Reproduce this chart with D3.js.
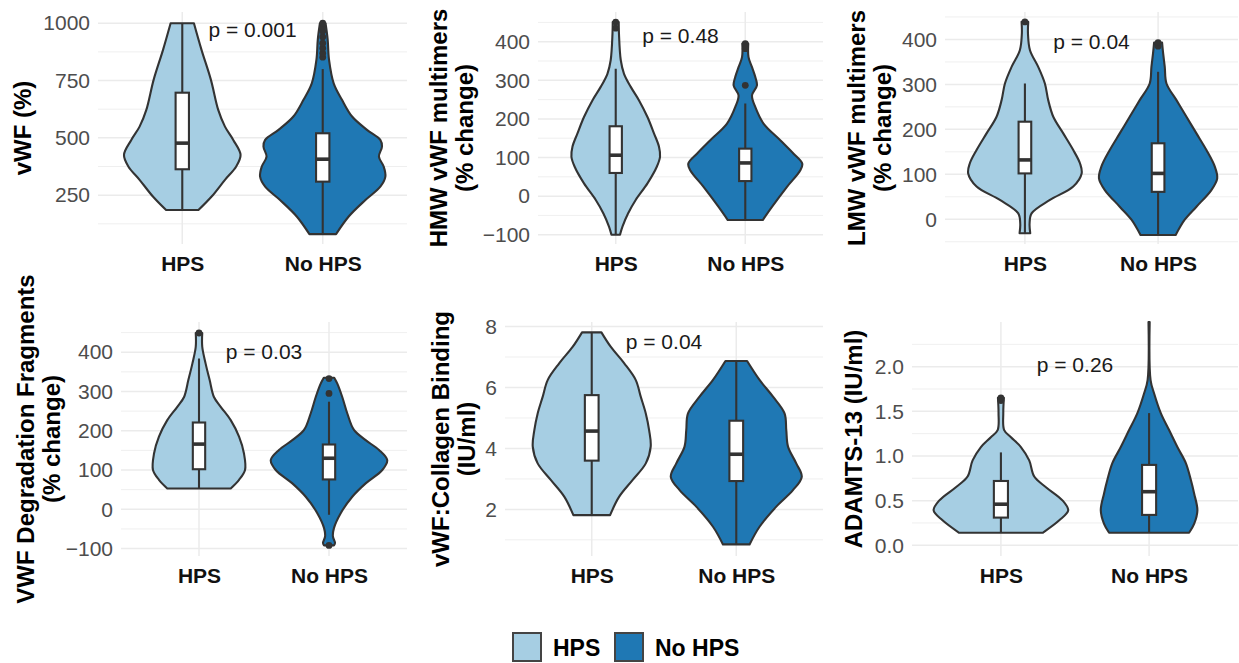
<!DOCTYPE html>
<html>
<head>
<meta charset="utf-8">
<script src="https://cdn.jsdelivr.net/npm/d3@7"></script>
<style>
  body { margin: 0; background: #fff; }
  text { font-family: "Liberation Sans", Arial, Helvetica, sans-serif; }
</style>
</head>
<body>
<div id="chart"></div>
<script>
// ---- data ----

const groups = ["HPS", "No HPS"];
const groupColors = ["#a6cee3", "#1f78b4"];

const panelTitles = [
    ["vWF (%)"],
    ["HMW vWF multimers", "(% change)"],
    ["LMW vWF multimers", "(% change)"],
    ["VWF Degradation Fragments", "(% change)"],
    ["vWF:Collagen Binding", "(IU/ml)"],
    ["ADAMTS-13 (IU/ml)"]
];
const yDomains = [[37, 1049], [-124, 477], [-55, 461], [-119, 477], [0.47, 8.15], [-0.12, 2.5]];
const yTicks = [
    [250, 500, 750, 1000],
    [-100, 0, 100, 200, 300, 400],
    [0, 100, 200, 300, 400],
    [-100, 0, 100, 200, 300, 400],
    [2, 4, 6, 8],
    [0, 0.5, 1, 1.5, 2]
];
const tickFormats = ["d", "d", "d", "d", "d", ".1f"];
const pLabels = ["p = 0.001", "p = 0.48", "p = 0.04", "p = 0.03", "p = 0.04", "p = 0.26"];
const pLabelY = [971, 417, 395, 402, 7.5, 2.02];

// violin outlines: [value, half width as a share of the category step]
const vwfHPS = [[1000, .083], [884, .137], [753, .204], [622, .256], [549, .304], [491, .363], [426, .415], [375, .384], [317, .304], [244, .209], [185, .115]];
const vwfNo = [[1000, .02], [930, .035], [840, .045], [738, .078], [666, .137], [593, .209], [535, .315], [491, .41], [462, .422], [418, .40], [375, .434], [331, .446], [287, .41], [229, .304], [157, .185], [80, .095]];
const hmwHPS = [[451, .023], [421, .025], [352, .039], [317, .064], [283, .116], [248, .18], [205, .245], [162, .296], [128, .334], [102, .342], [76, .317], [33, .245], [-10, .154], [-45, .095], [-79, .052], [-100, .033]];
const hmwNo = [[395, .023], [360, .025], [334, .052], [309, .077], [287, .09], [261, .052], [231, .077], [188, .141], [145, .27], [110, .373], [84, .44], [67, .425], [24, .322], [-28, .206], [-62, .135]];
const lmwHPS = [[439, .025], [413, .023], [376, .038], [339, .1], [302, .15], [265, .175], [228, .213], [191, .288], [154, .363], [124, .414], [102, .426], [73, .363], [43, .188], [13, .05], [-10, .035], [-31, .04]];
const lmwNo = [[393, .03], [369, .038], [339, .05], [302, .063], [265, .138], [228, .213], [191, .288], [154, .363], [117, .426], [91, .444], [65, .40], [28, .288], [-1, .2], [-35, .132]];
const fragHPS = [[449, .025], [414, .025], [371, .051], [329, .082], [286, .115], [261, .167], [227, .244], [185, .308], [142, .346], [100, .354], [75, .308], [53, .244]];
const fragNo = [[335, .04], [320, .064], [286, .102], [244, .141], [202, .192], [176, .282], [151, .385], [125, .448], [100, .41], [66, .282], [32, .179], [-10, .09], [-48, .038], [-69, .03], [-86, .046], [-92, .038]];
const collHPS = [[7.81, .067], [7.34, .131], [6.80, .224], [6.25, .304], [5.70, .339], [5.15, .374], [4.60, .397], [4.06, .408], [3.51, .374], [2.96, .282], [2.41, .189], [1.81, .127]];
const collNo = [[6.87, .075], [6.25, .161], [5.70, .254], [5.15, .334], [4.60, .346], [4.06, .358], [3.51, .415], [3.07, .453], [2.63, .392], [2.09, .277], [1.43, .161], [0.85, .092]];
const adamHPS = [[1.65, .02], [1.48, .016], [1.29, .022], [1.21, .068], [1.10, .135], [0.95, .191], [0.77, .225], [0.65, .304], [0.50, .417], [0.39, .454], [0.28, .394], [0.14, .282]];
const adamNo = [[2.50, .004], [1.85, .01], [1.70, .034], [1.48, .079], [1.29, .135], [1.10, .191], [0.92, .248], [0.73, .282], [0.58, .304], [0.39, .326], [0.24, .304], [0.14, .27]];
const violins = [[vwfHPS, vwfNo], [hmwHPS, hmwNo], [lmwHPS, lmwNo], [fragHPS, fragNo], [collHPS, collNo], [adamHPS, adamNo]];

// box stats [lower whisker, q1, median, q3, upper whisker]
const boxStats = [
    [[185, 363, 477, 697, 1000], [80, 309, 407, 520, 800]],
    [[-100, 60, 106, 181, 330], [-62, 39, 86, 123, 240]],
    [[-31, 102, 132, 217, 302], [-35, 61, 102, 169, 328]],
    [[53, 102, 166, 221, 384], [-14, 76, 130, 165, 274]],
    [[1.81, 3.60, 4.57, 5.75, 7.81], [0.85, 2.93, 3.81, 4.91, 6.87]],
    [[0.14, 0.31, 0.46, 0.72, 1.04], [0.14, 0.34, 0.60, 0.90, 1.48]]
];
const outliers = [
    [[], [852, 869, 891, 913, 940, 965, 985, 1000]],
    [[435, 451], [287, 382, 395]],
    [[439], [385, 393]],
    [[449], [295, 333, -92]],
    [[], []],
    [[1.62, 1.65], []]
];

// ---- layout ----

const width = 1239, height = 663;
const panelBoxes = [
    {x0: 98, x1: 407, y0: 12, y1: 244},
    {x0: 538, x1: 823, y0: 12, y1: 244},
    {x0: 945, x1: 1238, y0: 12, y1: 244},
    {x0: 121, x1: 407, y0: 322, y1: 556},
    {x0: 505, x1: 823, y0: 322, y1: 556},
    {x0: 912, x1: 1238, y0: 322, y1: 556}
];
const titleX = [[31], [447, 473], [865, 891], [34, 60], [449, 475], [862]];

const gridColor = "#ebebeb";
const inkColor = "#333333";
const boxShare = 0.095;
const lineW = 2.1;

const svg = d3.select("#chart").append("svg")
    .attr("width", width)
    .attr("height", height);

panelBoxes.forEach((b, p) => {
    const g = svg.append("g").attr("class", "panel");

    const x = d3.scalePoint()
        .domain(groups)
        .range([b.x0, b.x1])
        .padding(0.6);
    const step = x.step();

    const y = d3.scaleLinear()
        .domain(yDomains[p])
        .range([b.y1, b.y0]);

    // minor gridlines halfway between the breaks
    const ticks = yTicks[p];
    const half = (ticks[1] - ticks[0]) / 2;
    const minor = [ticks[0] - half].concat(ticks.map(t => t + half))
        .filter(v => v >= yDomains[p][0] && v <= yDomains[p][1]);

    g.selectAll(".minor")
        .data(minor)
        .join("line")
        .attr("x1", b.x0).attr("x2", b.x1)
        .attr("y1", d => y(d)).attr("y2", d => y(d))
        .attr("stroke", gridColor).attr("stroke-width", 0.8);

    g.selectAll(".major")
        .data(ticks)
        .join("line")
        .attr("x1", b.x0).attr("x2", b.x1)
        .attr("y1", d => y(d)).attr("y2", d => y(d))
        .attr("stroke", gridColor).attr("stroke-width", 1.5);

    g.selectAll(".vgrid")
        .data(groups)
        .join("line")
        .attr("x1", d => x(d)).attr("x2", d => x(d))
        .attr("y1", b.y0).attr("y2", b.y1)
        .attr("stroke", gridColor).attr("stroke-width", 1.5);

    // y axis
    const yAxis = g.append("g")
        .attr("transform", `translate(${b.x0},0)`)
        .call(d3.axisLeft(y).tickValues(ticks).tickFormat(d3.format(tickFormats[p])).tickSize(0).tickPadding(8));
    yAxis.select(".domain").remove();
    yAxis.selectAll("text")
        .attr("fill", "#4d4d4d")
        .style("font-size", "21px")
        .style("font-family", "'Liberation Sans', Arial, sans-serif");

    // x axis
    const xAxis = g.append("g")
        .attr("transform", `translate(0,${b.y1})`)
        .call(d3.axisBottom(x).tickSize(0).tickPadding(12));
    xAxis.select(".domain").remove();
    xAxis.selectAll("text")
        .attr("fill", "#111")
        .style("font-size", "21px")
        .style("font-weight", "bold")
        .style("font-family", "'Liberation Sans', Arial, sans-serif");

    // violins
    groups.forEach((grp, i) => {
        const cx = x(grp);
        const area = d3.area()
            .curve(d3.curveCatmullRom.alpha(0.5))
            .y(d => y(d[0]))
            .x0(d => cx - d[1] * step)
            .x1(d => cx + d[1] * step);

        g.append("path")
            .datum(violins[p][i])
            .attr("d", area)
            .attr("fill", groupColors[i])
            .attr("stroke", inkColor)
            .attr("stroke-width", lineW)
            .attr("stroke-linejoin", "round");

        const [lo, q1, med, q3, hi] = boxStats[p][i];
        const bw = step * boxShare;

        g.append("line")
            .attr("x1", cx).attr("x2", cx)
            .attr("y1", y(lo)).attr("y2", y(hi))
            .attr("stroke", inkColor).attr("stroke-width", lineW);

        g.append("rect")
            .attr("x", cx - bw / 2)
            .attr("y", y(q3))
            .attr("width", bw)
            .attr("height", y(q1) - y(q3))
            .attr("fill", "#fff")
            .attr("stroke", inkColor)
            .attr("stroke-width", lineW);

        g.append("line")
            .attr("x1", cx - bw / 2).attr("x2", cx + bw / 2)
            .attr("y1", y(med)).attr("y2", y(med))
            .attr("stroke", inkColor).attr("stroke-width", 3.6);

        g.selectAll(".out" + i)
            .data(outliers[p][i])
            .join("circle")
            .attr("cx", cx)
            .attr("cy", d => y(d))
            .attr("r", 3.4)
            .attr("fill", inkColor);
    });

    // p value between the two groups
    g.append("text")
        .attr("x", (x(groups[0]) + x(groups[1])) / 2)
        .attr("y", y(pLabelY[p]))
        .attr("dy", "0.35em")
        .attr("text-anchor", "middle")
        .attr("fill", "#1a1a1a")
        .style("font-size", "21px")
        .text(pLabels[p]);

    // y title, one or two lines
    const midY = (b.y0 + b.y1) / 2;
    panelTitles[p].forEach((line, k) => {
        g.append("text")
            .attr("transform", `translate(${titleX[p][k]},${midY}) rotate(-90)`)
            .attr("text-anchor", "middle")
            .attr("fill", "#000")
            .style("font-size", "24px")
            .style("font-weight", "bold")
            .text(line);
    });
});

// legend
const legendX = [513, 615];
const legend = svg.append("g").attr("class", "legend");
legend.selectAll("rect")
    .data(groups)
    .join("rect")
    .attr("x", (d, i) => legendX[i])
    .attr("y", 633)
    .attr("width", 28)
    .attr("height", 28)
    .attr("fill", (d, i) => groupColors[i])
    .attr("stroke", "#444")
    .attr("stroke-width", 2);
legend.selectAll("text")
    .data(groups)
    .join("text")
    .attr("x", (d, i) => legendX[i] + 40)
    .attr("y", 656)
    .attr("fill", "#000")
    .style("font-size", "23px")
    .style("font-weight", "bold")
    .text(d => d);
</script>
</body>
</html>
